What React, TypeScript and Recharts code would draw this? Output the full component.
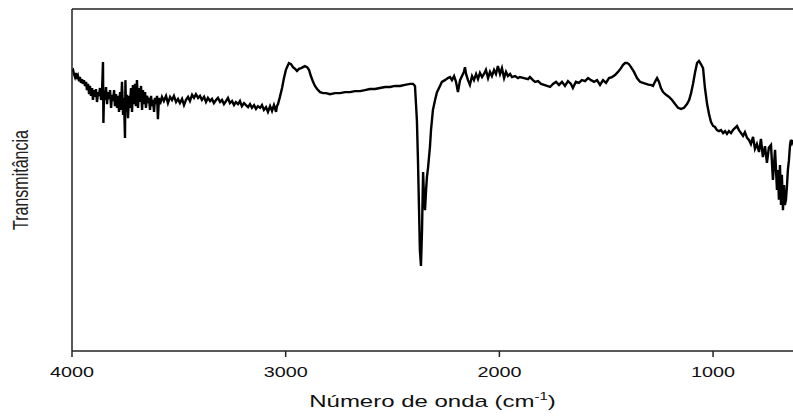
import React from 'react';
import { LineChart, Line, XAxis, YAxis, ReferenceLine } from 'recharts';

// Wavenumber (cm-1)
const wavenumbers: number[] = [
  4000, 3995, 3991, 3986, 3981, 3977, 3972, 3967, 3963, 3958, 3953, 3949, 3944, 3939, 3934, 3930, 3925, 3920, 3916, 3911,
  3906, 3902, 3897, 3892, 3888, 3883, 3878, 3874, 3869, 3864, 3860, 3855, 3853, 3850, 3846, 3841, 3836, 3832, 3827, 3822,
  3817, 3813, 3808, 3803, 3799, 3794, 3789, 3785, 3780, 3775, 3771, 3766, 3761, 3757, 3752, 3750, 3747, 3743, 3738, 3733,
  3729, 3724, 3719, 3715, 3710, 3705, 3701, 3696, 3691, 3686, 3682, 3677, 3672, 3668, 3663, 3658, 3654, 3649, 3644, 3640,
  3635, 3630, 3626, 3621, 3616, 3612, 3607, 3602, 3598, 3593, 3588, 3579, 3570, 3560, 3551, 3541, 3532, 3523, 3513, 3504,
  3495, 3485, 3476, 3467, 3457, 3448, 3438, 3429, 3420, 3410, 3401, 3392, 3382, 3373, 3364, 3354, 3345, 3336, 3326, 3317,
  3307, 3298, 3289, 3279, 3270, 3261, 3251, 3242, 3233, 3223, 3214, 3205, 3195, 3186, 3176, 3167, 3158, 3148, 3139, 3130,
  3120, 3111, 3102, 3092, 3083, 3073, 3064, 3055, 3045, 3041, 3036, 3027, 3017, 3008, 2999, 2989, 2985, 2975, 2966, 2956,
  2947, 2938, 2928, 2919, 2910, 2900, 2891, 2882, 2872, 2863, 2853, 2839, 2825, 2811, 2793, 2769, 2746, 2722, 2699, 2676,
  2652, 2629, 2606, 2582, 2559, 2535, 2512, 2489, 2465, 2442, 2418, 2404, 2395, 2386, 2381, 2376, 2372, 2367, 2362, 2357,
  2353, 2348, 2343, 2339, 2334, 2325, 2320, 2311, 2301, 2292, 2278, 2269, 2255, 2241, 2231, 2222, 2212, 2203, 2194, 2184,
  2175, 2166, 2161, 2156, 2147, 2138, 2128, 2119, 2109, 2100, 2091, 2081, 2072, 2063, 2053, 2044, 2035, 2025, 2016, 2007,
  1997, 1988, 1978, 1969, 1960, 1950, 1941, 1927, 1913, 1904, 1885, 1866, 1857, 1843, 1833, 1819, 1805, 1791, 1777, 1763,
  1749, 1735, 1721, 1707, 1693, 1679, 1665, 1656, 1642, 1628, 1614, 1599, 1585, 1571, 1557, 1543, 1529, 1515, 1501, 1487,
  1473, 1459, 1445, 1431, 1422, 1412, 1403, 1394, 1384, 1370, 1356, 1342, 1328, 1314, 1300, 1291, 1281, 1272, 1262, 1253,
  1244, 1234, 1220, 1206, 1192, 1178, 1164, 1150, 1136, 1122, 1112, 1103, 1094, 1084, 1075, 1066, 1057, 1047, 1038, 1028,
  1019, 1010, 1000, 991, 982, 972, 963, 953, 944, 935, 926, 916, 907, 898, 888, 879, 869, 860, 851, 841,
  832, 823, 813, 804, 795, 785, 776, 767, 757, 748, 739, 729, 720, 710, 701, 696, 692, 687, 682, 678,
  673, 668, 664, 659, 654, 650, 645, 640, 636, 631, 626,
];

// Transmittance (arbitrary %)
const transmittance: number[] = [
  81.9, 82.2, 81.0, 80.1, 81.3, 79.5, 80.4, 78.9, 80.1, 78.4, 79.5, 78.1, 79.2, 77.5, 78.7, 76.3, 78.1, 75.1, 77.5, 74.6,
  76.9, 73.4, 76.3, 74.3, 76.6, 72.8, 75.7, 74.6, 76.9, 73.4, 74.9, 84.5, 66.7, 75.7, 73.4, 77.2, 72.2, 75.7, 73.7, 76.3,
  71.1, 74.9, 73.1, 76.3, 71.6, 75.1, 71.1, 74.6, 69.9, 75.7, 70.5, 78.7, 69.0, 74.0, 62.3, 79.2, 69.9, 74.9, 68.1, 74.6,
  71.1, 76.9, 69.9, 77.8, 72.2, 78.1, 71.6, 79.2, 71.1, 76.9, 72.8, 77.5, 70.5, 76.3, 72.2, 75.7, 71.1, 74.6, 73.4, 74.0,
  70.5, 74.6, 71.6, 73.4, 69.9, 74.0, 72.2, 74.6, 67.8, 74.0, 72.2, 74.3, 73.1, 74.6, 72.5, 74.3, 73.4, 74.6, 72.8, 73.7,
  72.5, 73.7, 71.9, 73.4, 74.3, 73.1, 74.9, 74.0, 75.1, 74.0, 74.6, 73.4, 74.3, 72.8, 74.0, 73.1, 73.7, 72.5, 73.4, 74.0,
  72.8, 73.4, 72.2, 73.1, 74.0, 72.5, 73.1, 71.9, 72.8, 72.2, 73.1, 71.6, 72.5, 71.9, 71.3, 72.2, 71.1, 71.9, 70.8, 71.6,
  71.1, 71.9, 70.5, 71.3, 69.9, 71.6, 70.2, 71.9, 69.9, 71.6, 72.2, 74.3, 76.9, 79.8, 82.2, 83.6, 84.2, 83.9, 83.0, 82.5,
  81.9, 82.5, 82.7, 83.0, 83.3, 83.0, 82.2, 80.4, 78.7, 77.5, 76.6, 75.7, 75.4, 75.4, 75.1, 75.4, 75.4, 75.7, 75.7, 76.0,
  76.0, 76.3, 76.6, 76.6, 76.9, 77.2, 77.2, 77.5, 77.5, 77.8, 78.1, 78.1, 77.5, 67.5, 55.8, 41.2, 29.5, 24.9, 35.4, 52.3,
  45.6, 41.2, 47.1, 50.9, 53.5, 59.6, 64.6, 70.5, 73.4, 75.7, 77.5, 78.7, 79.2, 79.8, 80.1, 79.2, 80.4, 78.7, 75.7, 79.2,
  80.4, 81.6, 83.0, 81.0, 79.2, 77.8, 80.4, 79.2, 81.0, 79.5, 81.3, 80.1, 81.0, 82.2, 79.8, 81.6, 80.4, 82.2, 81.0, 83.3,
  81.0, 82.7, 79.8, 81.6, 80.4, 81.0, 80.1, 80.4, 79.8, 80.1, 79.8, 79.5, 80.1, 79.2, 78.7, 78.9, 78.1, 77.8, 77.5, 77.2,
  78.1, 78.7, 77.8, 78.7, 77.5, 78.9, 78.1, 76.9, 78.7, 78.4, 79.2, 78.9, 79.8, 79.2, 78.7, 79.2, 77.8, 79.2, 78.4, 79.8,
  80.1, 80.7, 81.6, 82.7, 83.6, 84.2, 84.2, 83.9, 83.0, 81.6, 79.8, 78.7, 78.4, 78.1, 77.8, 77.8, 77.5, 78.7, 79.8, 78.7,
  76.9, 75.7, 74.9, 74.3, 73.4, 72.2, 71.1, 70.8, 71.1, 72.2, 73.4, 75.4, 78.1, 81.6, 84.2, 84.8, 83.9, 82.7, 76.9, 72.2,
  69.3, 67.0, 65.8, 65.5, 64.6, 64.3, 64.6, 63.7, 64.3, 63.5, 64.3, 63.7, 64.6, 65.2, 65.8, 64.6, 63.7, 62.9, 64.0, 62.3,
  61.7, 60.5, 62.6, 59.1, 60.5, 58.2, 62.0, 56.7, 59.9, 55.0, 59.4, 60.2, 50.0, 58.8, 47.1, 52.9, 44.2, 54.4, 42.7, 51.5,
  41.2, 48.5, 42.7, 44.2, 48.5, 52.9, 55.8, 60.2, 61.7, 60.8, 61.7,
];

const xTicks: number[] = [4000, 3000, 2000, 1000];
const xTitle = 'Número de onda (cm';
const xTitleSup = '-1';
const yTitle = 'Transmitância';

const data = wavenumbers.map((w, i) => ({ w, t: transmittance[i] }));

const FONT = 'Liberation Sans, Arial, sans-serif';

const XTick = (props: any) => {
  const { x, y, payload } = props;
  return (
    <text
      transform={`translate(${x},${y + 20}) scale(1.32,1)`}
      textAnchor="middle"
      fontSize={15}
      fontFamily={FONT}
      fill="#111"
    >
      {payload.value}
    </text>
  );
};

const XTitle = (props: any) => {
  const vb = props.viewBox;
  const cx = vb.x + vb.width / 2;
  return (
    <text
      transform={`translate(${cx},407) scale(1.5,1)`}
      textAnchor="middle"
      fontSize={16}
      fontFamily={FONT}
      fill="#111"
    >
      {xTitle}
      <tspan fontSize={10} dy={-7}>{xTitleSup}</tspan>
      <tspan dy={7}>)</tspan>
    </text>
  );
};

const YTitle = (props: any) => {
  const vb = props.viewBox;
  const cy = vb.y + vb.height / 2;
  return (
    <text
      transform={`translate(28,${cy}) scale(1.35,1) rotate(-90)`}
      textAnchor="middle"
      fontSize={16}
      fontFamily={FONT}
      fill="#222"
    >
      {yTitle}
    </text>
  );
};

export default function App() {
  return (
    <div style={{ position: 'absolute', left: 0, top: 0, width: 793, height: 416, background: '#fff' }}>
      <LineChart width={793} height={416} data={data} margin={{ top: 9, right: 0, left: 0, bottom: 0 }}>
        <XAxis
          dataKey="w"
          type="number"
          domain={[626, 4000]}
          reversed
          allowDataOverflow
          ticks={xTicks}
          interval={0}
          height={65}
          tickSize={6}
          tickMargin={0}
          tick={<XTick />}
          axisLine={{ stroke: '#222', strokeWidth: 1.5 }}
          tickLine={{ stroke: '#222', strokeWidth: 1.5 }}
          label={<XTitle />}
        />
        <YAxis
          type="number"
          domain={[0, 100]}
          allowDataOverflow
          width={72}
          tick={false}
          tickLine={false}
          axisLine={{ stroke: '#222', strokeWidth: 1.5 }}
          label={<YTitle />}
        />
        <ReferenceLine y={100} stroke="#222" strokeWidth={1.5} ifOverflow="visible" />
        <Line
          type="linear"
          dataKey="t"
          stroke="#000"
          strokeWidth={2.4}
          dot={false}
          isAnimationActive={false}
        />
      </LineChart>
    </div>
  );
}
